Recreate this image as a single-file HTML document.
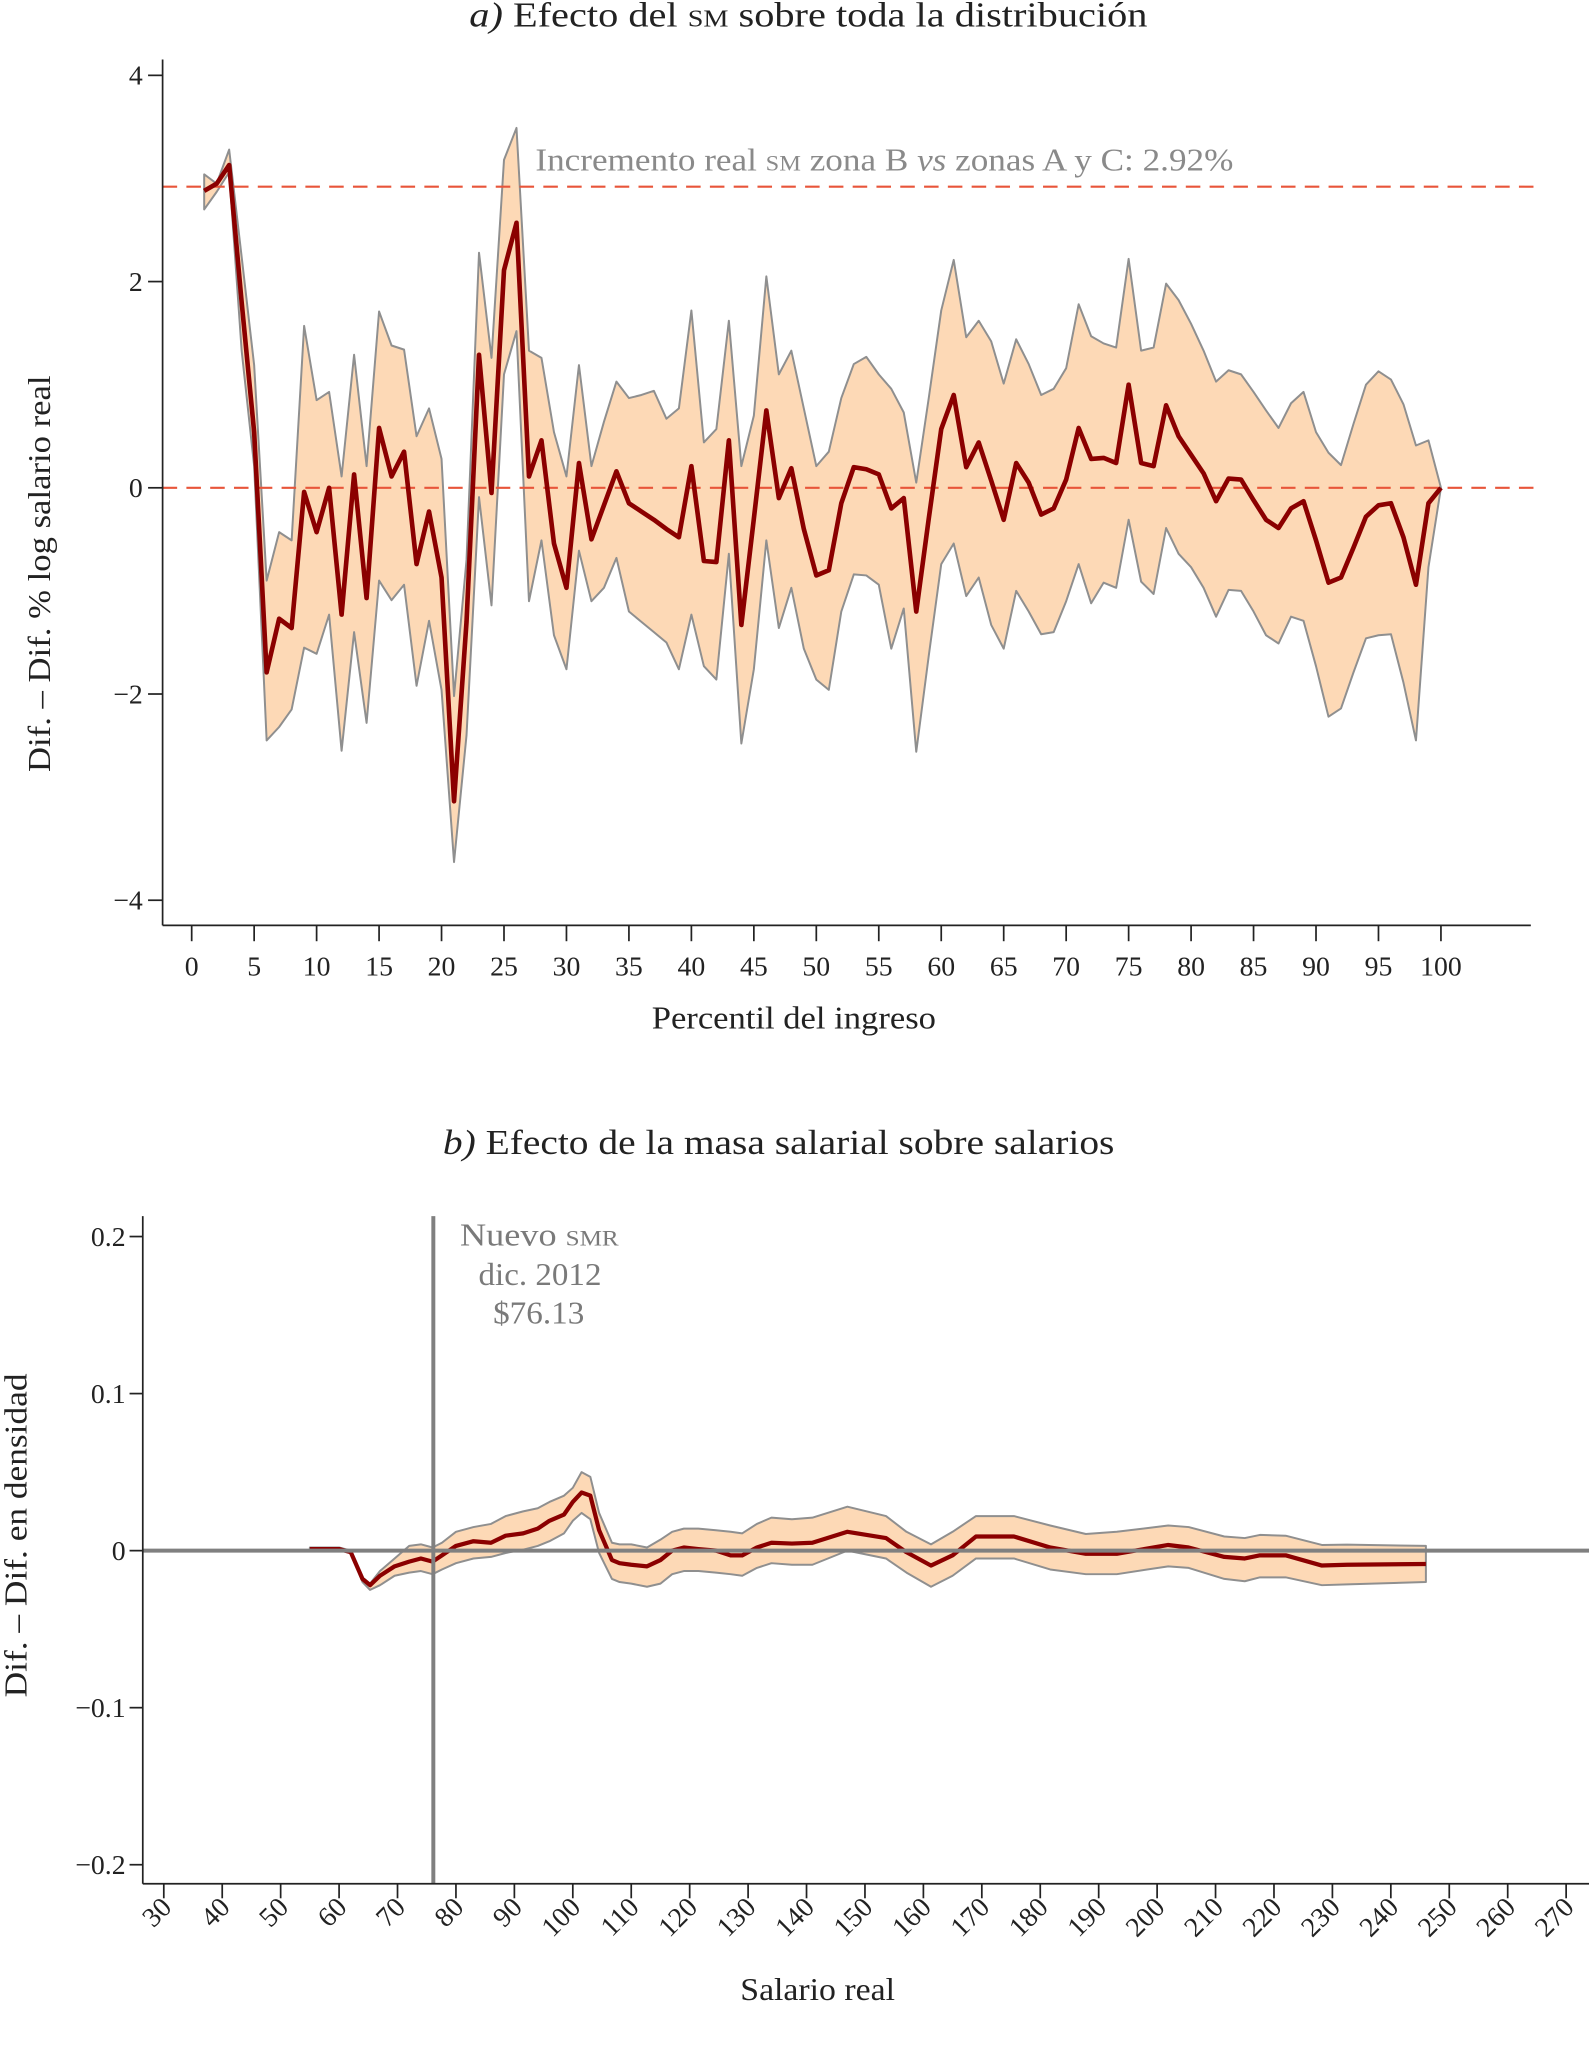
<!DOCTYPE html>
<html><head><meta charset="utf-8"><style>
html,body{margin:0;padding:0;background:#fff}
svg{display:block}
text{font-family:"Liberation Serif",serif}
</style></head><body>
<svg id="fig" width="1589" height="2072" viewBox="0 0 1202 1567.4" preserveAspectRatio="none" xmlns="http://www.w3.org/2000/svg">
<g id="chartA"></g>
<g id="chartB"></g>
</svg>
<script>
// ---------- Chart A data ----------
const pctTicks = [0,5,10,15,20,25,30,35,40,45,50,55,60,65,70,75,80,85,90,95,100];
const aYTicks = [4,2,0,-2,-4];
const aYTickLabels = ["4","2","0","\u22122","\u22124"];
const aRefValue = 2.92;
const aMid = [2.88,2.95,3.13,1.8,0.54,-1.79,-1.27,-1.36,-0.04,-0.43,
0,-1.23,0.13,-1.07,0.58,0.11,0.35,-0.74,-0.23,-0.87,
-3.04,-1.3,1.29,-0.05,2.11,2.57,0.11,0.46,-0.54,-0.97,
0.24,-0.5,-0.17,0.16,-0.15,-0.23,-0.31,-0.4,-0.48,0.21,
-0.71,-0.72,0.46,-1.33,-0.3,0.75,-0.1,0.19,-0.4,-0.85,
-0.8,-0.15,0.2,0.18,0.13,-0.2,-0.1,-1.2,-0.3,0.57,
0.9,0.2,0.44,0.07,-0.31,0.24,0.05,-0.26,-0.2,0.08,
0.58,0.28,0.29,0.24,1.0,0.24,0.21,0.8,0.5,0.32,
0.14,-0.13,0.09,0.08,-0.12,-0.31,-0.39,-0.2,-0.13,-0.51,
-0.92,-0.87,-0.58,-0.28,-0.17,-0.15,-0.48,-0.94,-0.15,0];
const aUpper = [3.04,2.95,3.28,2.24,1.19,-0.9,-0.43,-0.51,1.57,0.85,
0.93,0.11,1.29,0.21,1.71,1.38,1.34,0.5,0.77,0.28,
-2.02,-0.7,2.28,1.26,3.18,3.49,1.33,1.26,0.54,0.11,
1.19,0.21,0.64,1.03,0.87,0.9,0.94,0.67,0.77,1.72,
0.44,0.57,1.62,0.21,0.7,2.05,1.1,1.33,0.77,0.21,
0.35,0.87,1.2,1.27,1.1,0.96,0.73,0.05,0.87,1.72,
2.21,1.46,1.62,1.42,1.01,1.44,1.2,0.9,0.96,1.16,
1.78,1.47,1.4,1.36,2.22,1.33,1.36,1.98,1.82,1.59,
1.33,1.03,1.14,1.1,0.93,0.75,0.58,0.82,0.93,0.54,
0.34,0.22,0.62,1.0,1.13,1.05,0.81,0.41,0.46,0];
const aLower = [2.7,2.87,3.06,1.33,0.21,-2.45,-2.32,-2.15,-1.55,-1.61,
-1.23,-2.55,-1.4,-2.28,-0.9,-1.09,-0.94,-1.92,-1.29,-1.96,
-3.63,-2.4,-0.09,-1.14,1.1,1.52,-1.1,-0.51,-1.43,-1.76,
-0.61,-1.1,-0.97,-0.68,-1.2,-1.3,-1.4,-1.5,-1.76,-1.23,
-1.73,-1.86,-0.64,-2.48,-1.76,-0.51,-1.36,-0.97,-1.56,-1.86,
-1.96,-1.2,-0.84,-0.85,-0.94,-1.56,-1.17,-2.56,-1.63,-0.74,
-0.54,-1.05,-0.87,-1.33,-1.56,-1.0,-1.2,-1.42,-1.4,-1.1,
-0.74,-1.12,-0.92,-0.97,-0.31,-0.91,-1.03,-0.39,-0.64,-0.77,
-0.97,-1.25,-0.99,-1.0,-1.2,-1.43,-1.51,-1.25,-1.29,-1.73,
-2.22,-2.14,-1.79,-1.46,-1.43,-1.42,-1.89,-2.45,-0.77,0];

// ---------- Chart B data ----------
const salTicks = [30,40,50,60,70,80,90,100,110,120,130,140,150,160,170,180,190,200,210,220,230,240,250,260,270];
const bYTicks = [0.2,0.1,0,-0.1,-0.2];
const bYTickLabels = ["0.2","0.1","0","\u22120.1","\u22120.2"];
const bRefSalary = 76.13;
const bSalary = [55,60,62,64,65.3,67,69.5,72,74,76,77.6,80,83,86,88.5,91.5,94,96,98.5,100,101.5,103,104.5,106.7,108,110,112.7,115,117,119,121.5,124.5,127,129,131.5,134,137.5,141,147,153.6,157.1,161.3,165,169,175.5,181.7,187.8,193.1,201.9,205.4,211.5,215,217.6,222,228.2,232.5,246];
const bMid = [0.001,0.001,-0.001,-0.018,-0.022,-0.016,-0.010,-0.007,-0.005,-0.007,-0.003,0.003,0.006,0.005,0.0095,0.011,0.014,0.019,0.023,0.031,0.037,0.035,0.013,-0.006,-0.008,-0.009,-0.010,-0.006,0,0.002,0.001,0,-0.003,-0.003,0.002,0.005,0.0045,0.005,0.012,0.008,-0.001,-0.0095,-0.003,0.009,0.009,0.002,-0.002,-0.002,0.0036,0.002,-0.004,-0.005,-0.003,-0.003,-0.0095,-0.009,-0.0085];
const bUpper = [0.002,0.002,0.0,-0.017,-0.021,-0.013,-0.005,0.003,0.004,0.002,0.005,0.012,0.015,0.017,0.022,0.025,0.027,0.031,0.035,0.04,0.05,0.047,0.024,0.005,0.004,0.004,0.002,0.007,0.012,0.014,0.014,0.013,0.012,0.011,0.017,0.021,0.020,0.021,0.028,0.022,0.012,0.004,0.012,0.022,0.022,0.016,0.0106,0.012,0.016,0.015,0.009,0.008,0.01,0.0095,0.0036,0.0038,0.003];
const bLower = [0.0,0.0,-0.001,-0.02,-0.025,-0.022,-0.016,-0.014,-0.013,-0.015,-0.012,-0.008,-0.005,-0.004,-0.0015,0.0006,0.003,0.006,0.011,0.019,0.024,0.020,-0.0015,-0.018,-0.02,-0.021,-0.023,-0.021,-0.015,-0.013,-0.013,-0.014,-0.015,-0.016,-0.011,-0.008,-0.009,-0.009,0.0,-0.005,-0.014,-0.023,-0.016,-0.005,-0.005,-0.012,-0.015,-0.015,-0.010,-0.011,-0.018,-0.0195,-0.017,-0.017,-0.022,-0.0215,-0.020];

const NS = "http://www.w3.org/2000/svg";
function mk(parent, tag, attrs, txt){
  const e = document.createElementNS(NS, tag);
  for (const k in attrs) e.setAttribute(k, attrs[k]);
  if (txt !== undefined) e.textContent = txt;
  parent.appendChild(e);
  return e;
}
const BAND = "#fdd9b6", EDGE = "#8f8f8f", LINE = "#8b0000", REF = "#e8553a";
const FIT = {lengthAdjust:'spacingAndGlyphs'};

// ===== Chart A =====
(function(){
  const g = document.getElementById('chartA');
  const xA = p => 145 + p * 9.45;
  const yA = v => 369 - v * 78;
  let e;
  e = mk(g,'text',{x:355,y:20,'font-size':26,fill:'#222',textLength:513,lengthAdjust:'spacingAndGlyphs'});
  
  
  e.innerHTML = '<tspan font-style="italic">a)</tspan> Efecto del <tspan font-variant="small-caps">sm</tspan> sobre toda la distribución';
  let pts = aUpper.map((v,i)=>xA(i+1)+','+yA(v));
  for (let i=aLower.length-1;i>=0;i--) pts.push(xA(i+1)+','+yA(aLower[i]));
  e = mk(g,'polygon',{points:pts.join(' '),fill:BAND,stroke:EDGE,'stroke-width':1.5,'stroke-linejoin':'round'});
  
  
  e = mk(g,'line',{x1:123,x2:1162,y1:yA(aRefValue),y2:yA(aRefValue),stroke:REF,'stroke-width':1.6,'stroke-dasharray':'11,7'});
  
  
  e = mk(g,'line',{x1:123,x2:1162,y1:yA(0),y2:yA(0),stroke:REF,'stroke-width':1.6,'stroke-dasharray':'11,7'});
  
  
  e = mk(g,'polyline',{points:aMid.map((v,i)=>xA(i+1)+','+yA(v)).join(' '),fill:'none',stroke:LINE,'stroke-width':3.5,'stroke-linejoin':'round'});
  
  
  e = mk(g,'text',{x:405,y:129,'font-size':24,fill:'#8a8a8a',textLength:528,lengthAdjust:'spacingAndGlyphs'});
  
  
  e.innerHTML = 'Incremento real <tspan font-variant="small-caps">sm</tspan> zona B <tspan font-style="italic">vs</tspan> zonas A y C: 2.92%';
  e = mk(g,'line',{x1:123,x2:123,y1:45,y2:700,stroke:'#222','stroke-width':1.3});
  
  
  e = mk(g,'line',{x1:123,x2:1158,y1:700,y2:700,stroke:'#222','stroke-width':1.3});
  
  
  aYTicks.forEach((v,i)=>{
    mk(g,'line',{x1:112,x2:123,y1:yA(v),y2:yA(v),stroke:'#222','stroke-width':1.3});
    const t = mk(g,'text',{x:108,y:yA(v)+7,'text-anchor':'end','font-size':21,fill:'#222'},aYTickLabels[i]);
    
    
  });
  pctTicks.forEach(p=>{
    mk(g,'line',{x1:xA(p),x2:xA(p),y1:700,y2:712,stroke:'#222','stroke-width':1.3});
    const t = mk(g,'text',{x:xA(p),y:738,'text-anchor':'middle','font-size':21,fill:'#222'},String(p));
    
    
  });
  e = mk(g,'text',{x:493,y:778,'font-size':24,fill:'#222',textLength:215,lengthAdjust:'spacingAndGlyphs'},'Percentil del ingreso');
  
  
  e = mk(g,'text',{x:-150,y:0,'font-size':24,fill:'#222',textLength:300,lengthAdjust:'spacingAndGlyphs',transform:'translate(38,434) rotate(-90)'},'Dif. \u2013 Dif.  % log salario real');
  
  
})();

// ===== Chart B =====
(function(){
  const g = document.getElementById('chartB');
  const xB = s => 123.9 + (s - 30) * 4.42;
  const yB = v => 1173 - v * 1188;
  let e;
  e = mk(g,'text',{x:335,y:873,'font-size':26,fill:'#222',textLength:508,lengthAdjust:'spacingAndGlyphs'});
  
  
  e.innerHTML = '<tspan font-style="italic">b)</tspan> Efecto de la masa salarial sobre salarios';
  let pts = bUpper.map((v,i)=>xB(bSalary[i])+','+yB(v));
  for (let i=bLower.length-1;i>=0;i--) pts.push(xB(bSalary[i])+','+yB(bLower[i]));
  e = mk(g,'polygon',{points:pts.join(' '),fill:BAND,stroke:EDGE,'stroke-width':1.5,'stroke-linejoin':'round'});
  
  
  e = mk(g,'polyline',{points:bMid.map((v,i)=>xB(bSalary[i])+','+yB(v)).join(' '),fill:'none',stroke:LINE,'stroke-width':3.2,'stroke-linejoin':'round'});
  
  
  e = mk(g,'line',{x1:108,x2:1202,y1:yB(0),y2:yB(0),stroke:'#808080','stroke-width':3});
  
  
  e = mk(g,'line',{x1:xB(bRefSalary),x2:xB(bRefSalary),y1:920,y2:1425,stroke:'#808080','stroke-width':3});
  
  
  [['Nuevo <tspan font-variant="small-caps">smr</tspan>',942,348,120],['dic. 2012',972,362,93],['$76.13',1001,373,69]].forEach(a=>{
    const t = mk(g,'text',{x:a[2],y:a[1],'font-size':24,fill:'#7a7a7a',textLength:a[3],lengthAdjust:'spacingAndGlyphs'});
    t.innerHTML = a[0];
    
    
  });
  e = mk(g,'line',{x1:108,x2:108,y1:920,y2:1425,stroke:'#222','stroke-width':1.3});
  
  
  e = mk(g,'line',{x1:108,x2:1202,y1:1425,y2:1425,stroke:'#222','stroke-width':1.3});
  
  
  bYTicks.forEach((v,i)=>{
    mk(g,'line',{x1:98,x2:108,y1:yB(v),y2:yB(v),stroke:'#222','stroke-width':1.3});
    const t = mk(g,'text',{x:95,y:yB(v)+7,'text-anchor':'end','font-size':21,fill:'#222'},bYTickLabels[i]);
    
    
  });
  salTicks.forEach(s=>{
    mk(g,'line',{x1:xB(s),x2:xB(s),y1:1425,y2:1436,stroke:'#222','stroke-width':1.3});
    const t = mk(g,'text',{x:0,y:0,'text-anchor':'end','font-size':21,fill:'#222',transform:'translate('+(xB(s)+7)+',1444) rotate(-45)'},String(s));
    
    
  });
  e = mk(g,'text',{x:560,y:1513,'font-size':24,fill:'#222',textLength:117,lengthAdjust:'spacingAndGlyphs'},'Salario real');
  
  
  e = mk(g,'text',{x:-122,y:0,'font-size':24,fill:'#222',textLength:245,lengthAdjust:'spacingAndGlyphs',transform:'translate(20,1162) rotate(-90)'},'Dif. \u2013 Dif. en densidad');
  
  
})();
</script>
</body></html>
